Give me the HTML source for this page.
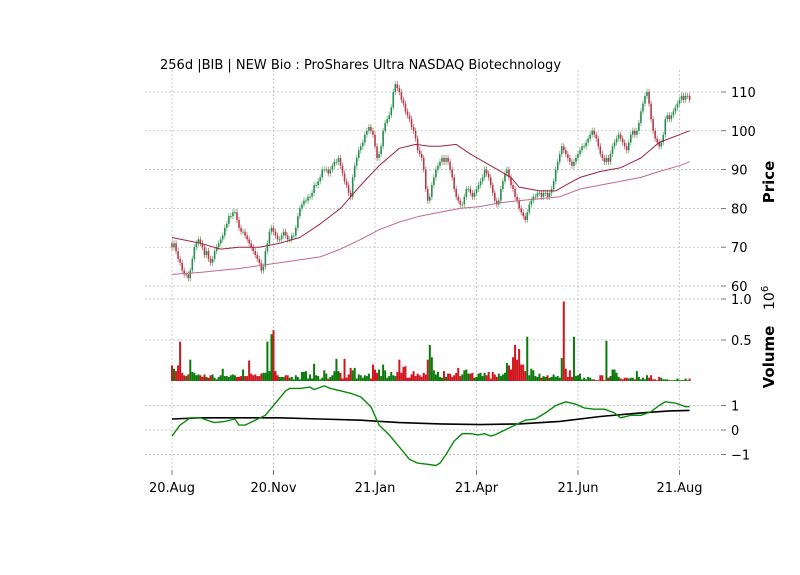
<!DOCTYPE html>
<html><head><meta charset="utf-8"><style>
body{margin:0;background:#fff;}
svg{display:block;font-family:"DejaVu Sans","Liberation Sans",sans-serif;}
</style></head><body>
<svg id="chart" width="800" height="575" viewBox="0 0 800 575" xmlns="http://www.w3.org/2000/svg">
<text x="160" y="69" font-size="13" fill="#000">256d |BIB | NEW Bio : ProShares Ultra NASDAQ Biotechnology</text>
<g id="grid"></g><g id="marks"></g><g id="axes"></g>
<text transform="translate(774,182) rotate(-90)" text-anchor="middle" font-size="15" font-weight="bold">Price</text>
<text transform="translate(774,357) rotate(-90)" text-anchor="middle" font-size="15" font-weight="bold">Volume</text>
<text transform="translate(774,310) rotate(-90)" font-size="14">10<tspan dy="-6" font-size="10">6</tspan></text>
</svg>
<script>
const closes=[70,71,69,67,66,64,63,63,62,64,67,70,71,72,71,70,68,69,67,66,67,69,70,71,72,73,75,76,78,78,79,79,77,75,74,74,73,72,71,70,69,68,67,66,64,65,69,71,74,75,74,73,72,72,73,74,73,72,72,73,73,75,78,80,81,82,82,83,83,84,86,86,87,88,90,90,90,89,90,91,92,92,93,91,89,87,86,84,83,88,91,93,95,96,97,99,100,101,100,99,96,93,94,96,100,102,103,104,106,110,112,111,110,108,107,105,104,103,101,100,98,95,94,93,90,85,82,83,86,88,90,91,92,93,92,93,92,90,88,85,83,82,81,81,83,85,85,84,83,84,85,86,87,88,90,89,88,86,84,82,81,82,85,87,89,90,88,86,85,83,82,80,79,78,77,79,81,82,83,83,84,84,83,84,84,83,84,85,87,90,92,94,96,95,94,93,92,91,92,93,94,95,96,96,97,98,99,100,99,98,96,94,93,92,93,92,94,96,97,98,99,98,97,96,95,97,99,100,99,100,102,105,107,109,110,107,103,100,98,97,96,97,99,103,104,103,104,105,106,107,108,109,108,109,109,108];
const volumes=[0.19,0.15,0.12,0.19,0.48,0.10,0.07,0.06,0.08,0.26,0.11,0.10,0.07,0.08,0.07,0.05,0.08,0.05,0.04,0.07,0.08,0.04,0.02,0.05,0.07,0.15,0.06,0.06,0.05,0.07,0.08,0.07,0.05,0.05,0.06,0.14,0.06,0.06,0.25,0.09,0.07,0.08,0.06,0.06,0.09,0.10,0.10,0.48,0.12,0.57,0.62,0.12,0.07,0.05,0.05,0.05,0.07,0.07,0.04,0.05,0.02,0.07,0.05,0.02,0.11,0.11,0.12,0.03,0.08,0.03,0.21,0.07,0.06,0.02,0.04,0.13,0.09,0.03,0.05,0.07,0.12,0.27,0.12,0.10,0.03,0.27,0.04,0.08,0.16,0.13,0.16,0.03,0.08,0.07,0.04,0.07,0.06,0.09,0.03,0.20,0.14,0.10,0.14,0.06,0.20,0.13,0.04,0.06,0.11,0.07,0.06,0.11,0.26,0.10,0.17,0.18,0.04,0.04,0.08,0.12,0.06,0.09,0.07,0.05,0.10,0.08,0.26,0.44,0.29,0.13,0.08,0.11,0.05,0.04,0.12,0.05,0.09,0.09,0.05,0.07,0.10,0.16,0.06,0.08,0.13,0.14,0.09,0.09,0.10,0.04,0.05,0.09,0.10,0.06,0.10,0.07,0.11,0.03,0.11,0.08,0.05,0.09,0.06,0.08,0.10,0.22,0.19,0.14,0.29,0.44,0.26,0.39,0.20,0.20,0.12,0.54,0.07,0.15,0.13,0.06,0.05,0.09,0.04,0.06,0.05,0.07,0.04,0.05,0.08,0.05,0.06,0.04,0.28,0.97,0.15,0.05,0.13,0.05,0.54,0.06,0.07,0.09,0.02,0.04,0.02,0.05,0.04,0.02,0.02,0.01,0.01,0.07,0.07,0.01,0.49,0.04,0.06,0.14,0.14,0.10,0.05,0.03,0.02,0.04,0.04,0.03,0.04,0.04,0.02,0.12,0.05,0.02,0.04,0.02,0.07,0.04,0.07,0.02,0.02,0.01,0.05,0.04,0.02,0.02,0.02,0.01,0.01,0.01,0.01,0.03,0.01,0.01,0.01,0.03,0.01,0.03];
const ma1Idx=[0,14,24,33,43,53,63,73,83,93,102,112,120,127,132,140,147,157,167,171,181,189,194,201,211,221,231,240,250,255];
const ma1Vals=[72.5,71,69.5,70,70,71,72.5,76,80,86,91,95.5,96.5,96,96,96.5,94,91,88,85.5,84.5,84.5,86,88,89.5,90.5,93,97,99,100];
const ma2Idx=[0,14,33,53,73,83,93,102,112,122,132,142,152,162,171,181,191,201,211,221,231,240,250,255];
const ma2Vals=[63,63.5,64.5,66,67.5,69.5,72,74.5,76.5,78,79,80,80.5,81.5,82,82.5,83,85,86,87,88,89.5,91,92];
const oscIdx=[0,4,9,14,19,21,26,31,33,36,41,46,51,56,58,63,68,70,75,78,83,88,93,98,102,107,112,117,121,126,130,132,135,139,143,147,151,154,157,159,164,169,174,179,184,189,194,199,203,208,213,218,221,226,231,236,240,243,248,253,255];
const oscVals=[-0.25,0.2,0.5,0.5,0.35,0.3,0.35,0.45,0.2,0.2,0.4,0.6,1.1,1.6,1.7,1.7,1.75,1.65,1.8,1.7,1.6,1.5,1.35,0.95,0.2,-0.2,-0.7,-1.2,-1.35,-1.4,-1.45,-1.35,-1.0,-0.45,-0.15,-0.15,-0.2,-0.15,-0.25,-0.2,0.0,0.2,0.4,0.45,0.7,1.0,1.15,1.05,0.9,0.85,0.85,0.7,0.5,0.6,0.6,0.75,1.0,1.15,1.1,0.95,0.95];
const sigIdx=[0,14,33,53,73,93,112,132,152,171,191,211,231,245,255];
const sigVals=[0.45,0.5,0.5,0.5,0.45,0.4,0.3,0.25,0.22,0.25,0.35,0.55,0.7,0.78,0.8];
const xTickIdx=[0,50,100,150,200,250];
const xTickLabels=["20.Aug","20.Nov","21.Jan","21.Apr","21.Jun","21.Aug"];
const priceTicks=[60,70,80,90,100,110];
const volTicks=[0.5,1.0];
const volTickLabels=["0.5","1.0"];
const oscTicks=[-1,0,1];
const oscTickLabels=["\u22121","0","1"];

const NS="http://www.w3.org/2000/svg";
const X0=172,DX=2.03,L=145,R=720;
const xs=i=>X0+i*DX;
const yP=p=>286-(p-60)*3.88;
const yV=v=>381-v*82;
const yO=v=>430-v*24.5;
function mk(parent,tag,attrs){const e=document.createElementNS(NS,tag);for(const k in attrs)e.setAttribute(k,attrs[k]);document.getElementById(parent).appendChild(e);return e;}
const gridStyle={stroke:"#b5b5b5","stroke-width":0.7,"stroke-dasharray":"2,2"};
function hgrid(y,name){const e=mk("grid","line",Object.assign({x1:L,x2:R,y1:y,y2:y},gridStyle));

}
function ytick(y,label,name){const t=mk("axes","line",{x1:721,x2:726,y1:y,y2:y,stroke:"#555","stroke-width":0.8});


const tx=mk("axes","text",{x:731,y:y+5,"font-size":13});tx.textContent=label;

}
priceTicks.forEach(p=>{hgrid(yP(p),'price-gridline');ytick(yP(p),String(p),'price-tick');});
volTicks.forEach((v,k)=>{hgrid(yV(v),'volume-gridline');ytick(yV(v),volTickLabels[k],'volume-tick');});
oscTicks.forEach((v,k)=>{hgrid(yO(v),'indicator-gridline');ytick(yO(v),oscTickLabels[k],'indicator-tick');});
xTickIdx.forEach((i,k)=>{const x=xs(i);
const g=mk("grid","line",Object.assign({x1:x,x2:x,y1:70,y2:470},gridStyle));


const t=mk("axes","line",{x1:x,x2:x,y1:470,y2:475,stroke:"#555","stroke-width":0.8});


const tx=mk("axes","text",{x:x,y:492,"font-size":13,"text-anchor":"middle"});tx.textContent=xTickLabels[k];

});
closes.forEach((c,i)=>{const o=i?closes[i-1]:71;const up=c>=o;const x=xs(i);
const hi=Math.max(o,c)+0.8,lo=Math.min(o,c)-0.8;
const w=mk("marks","line",{x1:x,x2:x,y1:yP(hi),y2:yP(lo),stroke:up?"#5fb86b":"#c86670","stroke-width":0.8});


const yt=Math.min(yP(o),yP(c)),h=Math.max(Math.abs(yP(o)-yP(c)),0.8);
const b=mk("marks","rect",{x:x-0.8,y:yt,width:1.6,height:h,fill:up?"#2a8a57":"#b23a4a"});


if(i<volumes.length){const v=volumes[i];
const vb=mk("marks","rect",{x:x-1,y:yV(v),width:2,height:yV(0)-yV(v),fill:up?"#0a7a0a":"#d0151f"});

}});
function line(idx,vals,fy,color,w,name){const pts=idx.map((i,k)=>xs(i).toFixed(1)+","+fy(vals[k]).toFixed(1)).join(" ");
const e=mk("marks","polyline",{points:pts,fill:"none",stroke:color,"stroke-width":w,"stroke-linejoin":"round"});

}
line(ma1Idx,ma1Vals,yP,"#9c2440",1,'moving-average-fast');
line(ma2Idx,ma2Vals,yP,"#c46a88",1,'moving-average-slow');
line(sigIdx,sigVals,yO,"#000",1.6,'indicator-signal-line');
line(oscIdx,oscVals,yO,"#0a8a0a",1.4,'indicator-oscillator-line');
</script>
</body></html>
